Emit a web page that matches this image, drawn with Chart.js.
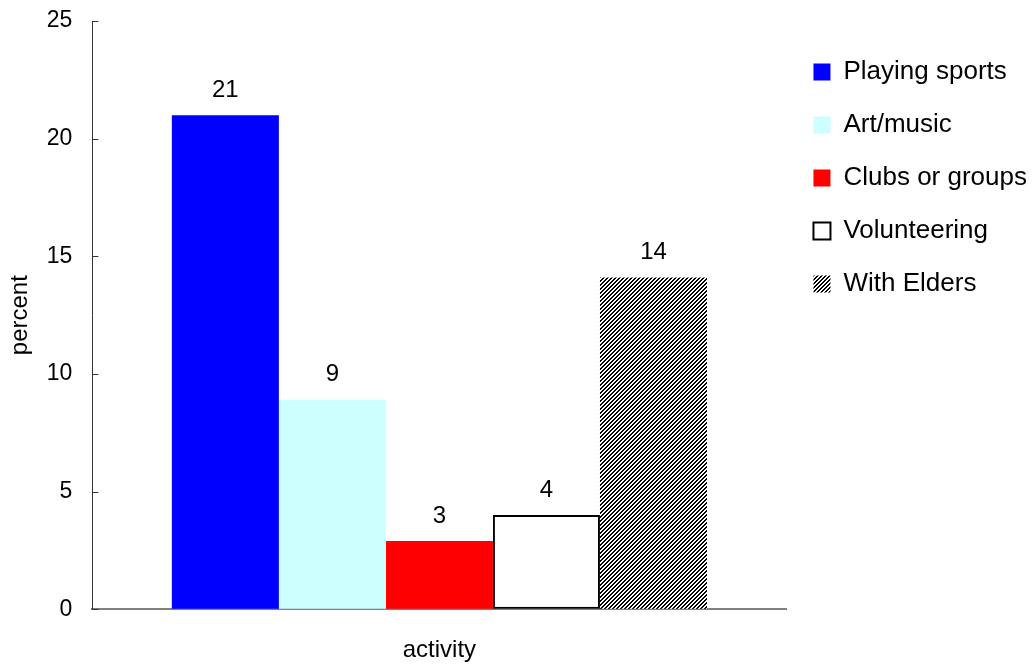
<!DOCTYPE html>
<html lang="en">
<head>
    <meta charset="UTF-8">
    <title>Activities</title>
    <script src="https://cdn.jsdelivr.net/npm/chart.js"></script>
    <style>
        html, body { margin: 0; padding: 0; background: #fff; }
        #wrap { width: 1034px; height: 665px; }
    </style>
</head>
<body>
    <div id="wrap"><canvas id="chart"></canvas></div>

    <script>
        // data
        const categories = [''];
        const seriesNames = ['Playing sports', 'Art/music', 'Clubs or groups', 'Volunteering', 'With Elders'];
        const seriesValues = [21.0, 8.9, 2.9, 4.0, 14.1];
        const yTicks = [0, 5, 10, 15, 20, 25];

        const FONT = "'Liberation Sans', Arial, sans-serif";

        // diagonal hatch for the last series
        function makeHatch() {
            const c = document.createElement('canvas');
            c.width = 4; c.height = 4;
            const g = c.getContext('2d');
            g.fillStyle = '#fff';
            g.fillRect(0, 0, 4, 4);
            g.fillStyle = '#000';
            for (let x = 0; x < 4; x++) {
                for (let y = 0; y < 4; y++) {
                    if ((x + y) % 4 < 2) g.fillRect(x, y, 1, 1);
                }
            }
            return g.createPattern(c, 'repeat');
        }

        const ctx = document.getElementById('chart').getContext('2d');
        const hatch = makeHatch();

        const fills = ['#0000ff', '#ccffff', '#ff0000', '#ffffff', hatch];
        const borders = ['#0000ff', '#ccffff', '#ff0000', '#000000', 'rgba(0,0,0,0)'];
        const borderWidths = [0, 0, 0, 2, 0];

        // value labels on top of bars
        const valueLabels = {
            id: 'valueLabels',
            afterDatasetsDraw(chart) {
                const c = chart.ctx;
                c.save();
                c.font = '24px ' + FONT;
                c.fillStyle = '#000';
                c.textAlign = 'center';
                c.textBaseline = 'bottom';
                chart.data.datasets.forEach((ds, i) => {
                    chart.getDatasetMeta(i).data.forEach((bar, j) => {
                        c.fillText(String(Math.round(ds.data[j])), bar.x, bar.y - 13);
                    });
                });
                c.restore();
            }
        };

        // small tick marks pointing into the plot
        const innerTicks = {
            id: 'innerTicks',
            afterDraw(chart) {
                const y = chart.scales.y;
                const c = chart.ctx;
                c.save();
                c.strokeStyle = '#333';
                c.lineWidth = 1;
                y.ticks.forEach(t => {
                    const py = Math.round(y.getPixelForValue(t.value)) + 0.5;
                    c.beginPath();
                    c.moveTo(y.right, py);
                    c.lineTo(y.right + 6, py);
                    c.stroke();
                });
                c.restore();
            }
        };

        new Chart(ctx, {
            type: 'bar',
            data: {
                labels: categories,
                datasets: seriesNames.map((name, i) => ({
                    label: name,
                    data: [seriesValues[i]],
                    backgroundColor: fills[i],
                    borderColor: borders[i],
                    borderWidth: borderWidths[i],
                    borderSkipped: false,
                    categoryPercentage: 0.771,
                    barPercentage: 1.0
                }))
            },
            options: {
                responsive: true,
                maintainAspectRatio: false,
                animation: false,
                layout: { padding: { top: 9, right: -3, bottom: 0, left: 0 } },
                plugins: {
                    tooltip: { enabled: false },
                    legend: {
                        position: 'right',
                        align: 'start',
                        title: {
                            display: true,
                            text: '',
                            font: { size: 10, lineHeight: 1 },
                            padding: { top: 13, bottom: 0 }
                        },
                        labels: {
                            color: '#000',
                            font: { family: FONT, size: 26 },
                            boxWidth: 17,
                            boxHeight: 17,
                            padding: 27,
                            generateLabels(chart) {
                                return chart.data.datasets.map((ds, i) => ({
                                    text: ds.label,
                                    fillStyle: fills[i],
                                    strokeStyle: i === 3 ? '#000' : fills[i],
                                    lineWidth: i === 3 ? 2 : 0,
                                    fontColor: '#000',
                                    datasetIndex: i
                                }));
                            }
                        }
                    }
                },
                scales: {
                    x: {
                        grid: { display: false, drawTicks: false },
                        border: { display: true, color: '#808080', width: 2 },
                        ticks: { display: false },
                        title: {
                            display: true,
                            text: 'activity',
                            color: '#000',
                            font: { family: FONT, size: 24 },
                            padding: { top: 27, bottom: 0 }
                        }
                    },
                    y: {
                        min: 0,
                        max: 25,
                        afterBuildTicks(axis) {
                            axis.ticks = yTicks.map(v => ({ value: v }));
                        },
                        grid: { drawOnChartArea: false, drawTicks: false },
                        border: { display: true, color: '#333', width: 1 },
                        ticks: {
                            color: '#000',
                            padding: 20,
                            font: { family: FONT, size: 23, lineHeight: 0.1 }
                        },
                        title: {
                            display: true,
                            text: 'percent',
                            color: '#000',
                            font: { family: FONT, size: 24 },
                            padding: { top: 6, bottom: -8 }
                        }
                    }
                }
            },
            plugins: [valueLabels, innerTicks]
        });
    </script>
</body>
</html>
